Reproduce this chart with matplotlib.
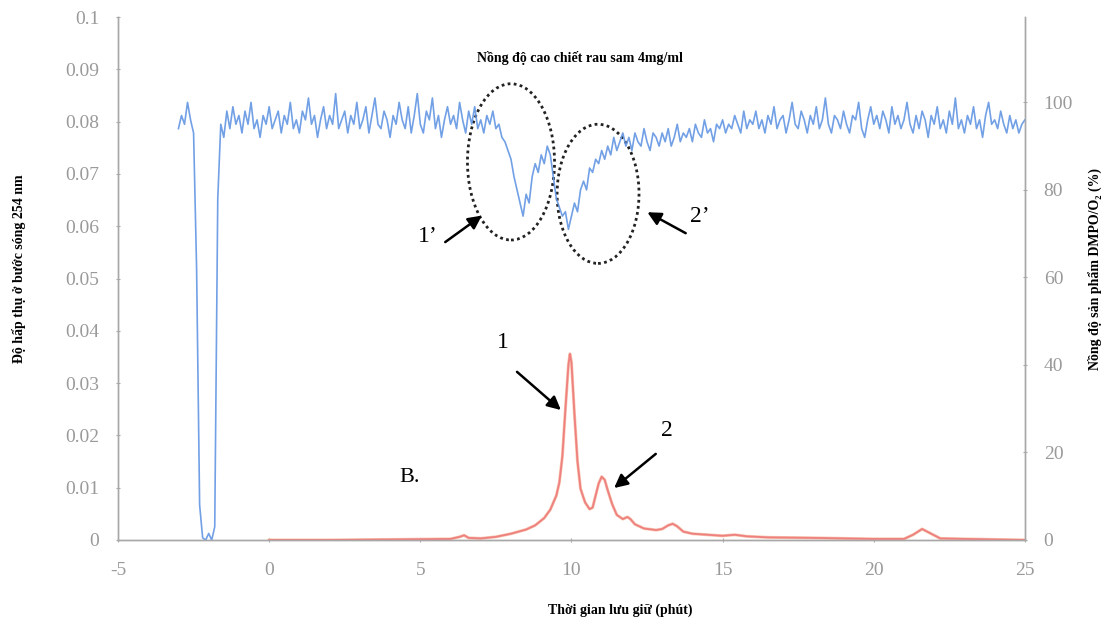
import numpy as np
import matplotlib
matplotlib.use("Agg")
import matplotlib.pyplot as plt
from matplotlib.patches import Ellipse

plt.rcParams["font.family"] = ["Liberation Serif", "DejaVu Serif"]
plt.rcParams["axes.unicode_minus"] = False

# red trace: absorbance at 254 nm (left axis)
red_t = [0, 2, 4, 6.0, 6.3, 6.45, 6.6, 7.0, 7.5, 8.0, 8.5, 8.8, 9.1, 9.3, 9.5,
         9.6, 9.7, 9.8, 9.9, 9.95, 10.0, 10.1, 10.2, 10.3, 10.45, 10.6, 10.7,
         10.8, 10.9, 11.0, 11.1, 11.2, 11.35, 11.5, 11.7, 11.85, 11.95, 12.1,
         12.4, 12.8, 13.0, 13.2, 13.35, 13.5, 13.7, 14.0, 14.5, 15.0, 15.4,
         15.8, 16.5, 18, 20, 21.0, 21.3, 21.6, 21.9, 22.2, 23, 25]
red_v = [0, 0, 0.0001, 0.0002, 0.0006, 0.0009, 0.0004, 0.0003, 0.0006, 0.0012,
         0.002, 0.0028, 0.0042, 0.0058, 0.0085, 0.011, 0.016, 0.025, 0.0335,
         0.0356, 0.034, 0.024, 0.015, 0.0098, 0.0072, 0.0059, 0.0062, 0.0085,
         0.0108, 0.0121, 0.0115, 0.0095, 0.0068, 0.0048, 0.0040, 0.0044,
         0.0040, 0.0030, 0.0022, 0.0019, 0.0021, 0.0028, 0.0031, 0.0026,
         0.0016, 0.0012, 0.0010, 0.0008, 0.0010, 0.0007, 0.0005, 0.0004,
         0.0002, 0.0002, 0.0010, 0.0021, 0.0012, 0.0003, 0.0002, 0.0]

# blue trace: DMPO/O2 product (%) (right axis), read every 0.1 min from -3 to 25
blue_start = -3.0
blue_step = 0.1
blue_v = [
    94, 97, 95, 100, 96, 93, 62, 8, 0.5, 0,
    1.5, 0, 3, 78, 95, 92, 98, 94, 99, 95,
    97, 93, 98, 95, 100, 94, 96, 92, 97, 95,
    99, 94, 96, 98, 93, 97, 95, 100, 94, 96,
    93, 98, 96, 101, 95, 97, 92, 96, 99, 94,
    97, 95, 102, 94, 96, 98, 93, 97, 95, 100,
    94, 96, 99, 93, 97, 101, 95, 94, 98, 96,
    92, 97, 95, 100, 96, 94, 99, 93, 97, 102,
    95, 93, 98, 96, 101, 94, 97, 92, 96, 99,
    95, 97, 94, 100, 96, 93, 98, 95, 99, 94,
    96, 93, 97, 95, 98, 94, 95, 92, 91, 89,
    87, 83, 80, 77, 74, 79, 77, 83, 86, 84,
    88, 86, 90, 88, 83, 78, 76, 74, 75, 71,
    74, 77, 75, 80, 82, 80, 85, 84, 87, 86,
    89, 87, 90, 88, 92, 89, 91, 93, 90, 92,
    89, 93, 91, 90, 94, 91, 89, 93, 92, 90,
    93, 91, 94, 90, 92, 95, 91, 93, 92, 94,
    91, 95, 93, 92, 96, 93, 94, 91, 95, 94,
    96, 93, 95, 94, 97, 95, 93, 98, 94, 96,
    95, 98, 94, 96, 93, 97, 95, 99, 94, 96,
    97, 93, 96, 100, 95, 94, 98, 96, 93, 97,
    95, 99, 94, 96, 101, 95, 93, 97, 96, 94,
    98, 95, 93, 97, 96, 100, 94, 92, 96, 99,
    95, 97, 94, 98, 96, 93, 99, 95, 97, 94,
    96, 100, 95, 93, 97, 94, 98, 96, 92, 97,
    95, 99, 94, 96, 93, 98, 95, 101, 94, 96,
    93, 97, 95, 99, 94, 96, 92, 97, 100, 95,
    96, 94, 98, 95, 93, 97, 94, 96, 93, 95,
    96,
]
blue_t = blue_start + blue_step * np.arange(len(blue_v))

x_ticks = [-5, 0, 5, 10, 15, 20, 25]
left_ticks = [0, 0.01, 0.02, 0.03, 0.04, 0.05, 0.06, 0.07, 0.08, 0.09, 0.1]
left_labels = ["0", "0.01", "0.02", "0.03", "0.04", "0.05", "0.06", "0.07",
               "0.08", "0.09", "0.1"]
right_ticks = [0, 20, 40, 60, 80, 100]

gray = "#a8a8a8"
fig = plt.figure(figsize=(11.08, 6.26), dpi=100)
ax = fig.add_axes([0.1065, 0.1374, 0.8185, 0.8354])
ax2 = ax.twinx()

ax.plot(red_t, red_v, color="#f4a07a", lw=2.2, alpha=0.6, zorder=3)
ax.plot(red_t, red_v, color="#ee8080", lw=1.3, zorder=4)
ax2.plot(blue_t, blue_v, color="#6396e3", lw=1.2, alpha=0.9)

ax.set_xlim(-5, 25)
ax.set_ylim(0, 0.1)
ax2.set_ylim(0, 119.5)
ax.set_xticks(x_ticks)
ax.set_yticks(left_ticks)
ax.set_yticklabels(left_labels)
ax2.set_yticks(right_ticks)

for a in (ax, ax2):
    a.spines["top"].set_visible(False)
    for s in ("left", "right", "bottom"):
        a.spines[s].set_color(gray)
        a.spines[s].set_linewidth(1.0)
    a.tick_params(colors=gray, labelcolor="#9a9a9a", labelsize=14, length=3,
                  direction="inout", pad=12)
ax.tick_params(axis="x", pad=14)

fig.text(0.560, 0.025, "Thời gian lưu giữ (phút)", fontsize=10,
         fontweight="bold", ha="center", va="center")
fig.text(0.017, 0.57, "Độ hấp thụ ở bước sóng 254 nm", fontsize=10,
         fontweight="bold", ha="center", va="center", rotation=90)
fig.text(0.988, 0.57, "Nồng độ sản phẩm DMPO/O₂ (%)", fontsize=10,
         fontweight="bold", ha="center", va="center", rotation=90)

fig.text(0.523, 0.908, "Nồng độ cao chiết rau sam 4mg/ml", fontsize=10,
         fontweight="bold", ha="center", va="center")

arrow = dict(arrowstyle="-|>", color="black", lw=1.8, mutation_scale=20)
ax.annotate("", xy=(9.72, 0.0245), xytext=(8.13, 0.0325), arrowprops=arrow)
ax.text(7.74, 0.0377, "1", fontsize=17, ha="center", va="center")
ax.annotate("", xy=(11.34, 0.0096), xytext=(12.86, 0.0168), arrowprops=arrow)
ax.text(13.16, 0.021, "2", fontsize=17, ha="center", va="center")
ax.text(4.66, 0.012, "B.", fontsize=16, ha="center", va="center")

ax2.annotate("", xy=(7.11, 74.5), xytext=(5.75, 67.7), arrowprops=arrow)
ax2.text(5.26, 69.3, "1’", fontsize=17, ha="center", va="center")
ax2.annotate("", xy=(12.43, 75.2), xytext=(13.86, 69.8), arrowprops=arrow)
ax2.text(14.25, 73.9, "2’", fontsize=17, ha="center", va="center")

ax2.add_patch(Ellipse((8.0, 86.4), 2.88, 35.7, fill=False, ls=(0, (1, 1.2)),
                      lw=2.0, color="#222222"))
ax2.add_patch(Ellipse((10.88, 79.1), 2.71, 31.8, fill=False, ls=(0, (1, 1.2)),
                      lw=2.0, color="#222222"))

fig.savefig("out.png", dpi=100)
